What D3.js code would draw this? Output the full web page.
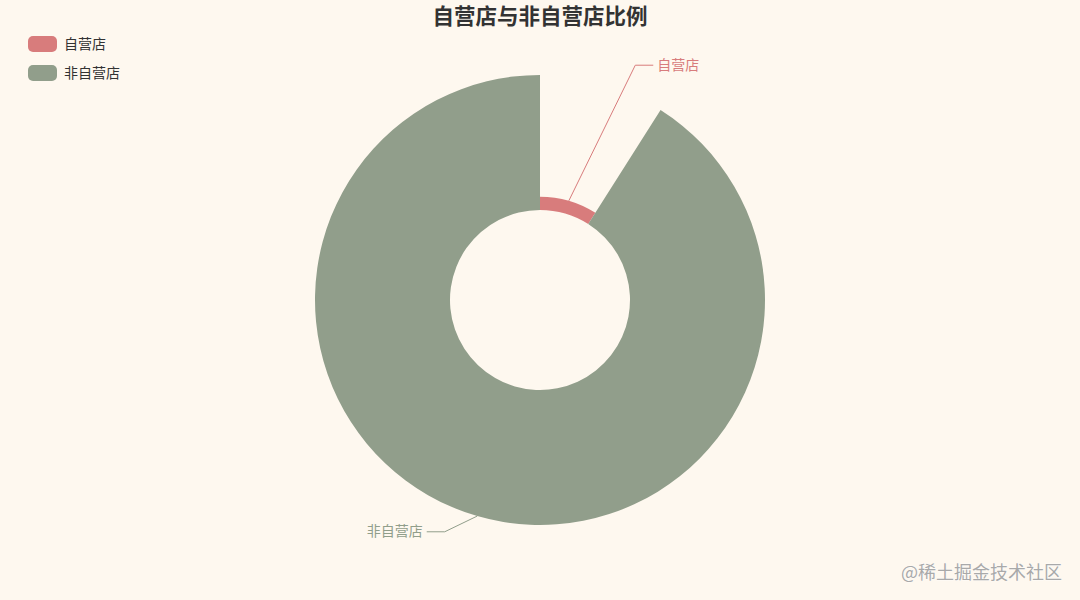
<!DOCTYPE html>
<html><head><meta charset="utf-8">
<script src="https://cdn.jsdelivr.net/npm/d3@7/dist/d3.min.js"></script>
<style>body{margin:0;background:#fef8ef;}svg{display:block;font-family:"Noto Sans CJK SC","Noto Sans",sans-serif;}</style>
</head><body>
<svg id="c" width="1080" height="600"></svg>
<script>
const categories = ["自营店", "非自营店"];
const values = [9, 91];
const colors = ["#d87c7c", "#919e8b"];
const titleText = "自营店与非自营店比例";
const watermark = "@稀土掘金技术社区";

const W = 1080, H = 600, cx = 540, cy = 300;
const r0 = 90, R = 225;
const svg = d3.select("#c");
svg.append("rect").attr("width", W).attr("height", H).attr("fill", "#fef8ef");

const data = categories.map((c, i) => ({name: c, value: values[i], color: colors[i]}));
const rScale = d3.scaleLinear().domain([0, d3.max(values)]).range([r0, R]);
const pie = d3.pie().value(d => d.value).sort(null).startAngle(0).endAngle(2 * Math.PI);
const arcs = pie(data);
const arc = d3.arc().innerRadius(r0).outerRadius(d => rScale(d.data.value));

const g = svg.append("g").attr("transform", `translate(${cx},${cy})`);
g.selectAll("path.slice").data(arcs).enter().append("path")
  .attr("class", "slice").attr("d", arc).attr("fill", d => d.data.color);

// labels
const turnR = R + 27, angOff = 0.105, len2 = 18;
arcs.forEach(d => {
  const mid = (d.startAngle + d.endAngle) / 2;
  const ro = rScale(d.data.value);
  const p0 = [ro * Math.sin(mid), -ro * Math.cos(mid)];
  const a1 = mid + angOff;
  const p1 = [turnR * Math.sin(a1), -turnR * Math.cos(a1) - 1.5];
  const right = p1[0] >= 0;
  const p2 = [p1[0] + (right ? len2 : -len2), p1[1]];
  g.append("path").attr("d", d3.line()([p0, p1, p2]))
    .attr("fill", "none").attr("stroke", d.data.color).attr("stroke-width", 1);
  g.append("text").attr("x", p2[0] + (right ? 4 : -4)).attr("y", p2[1] - 1.5)
    .attr("text-anchor", right ? "start" : "end").attr("dominant-baseline", "central")
    .attr("font-size", 14).attr("fill", d.data.color).text(d.data.name);
});

// title
svg.append("text").attr("x", cx).attr("y", 14).attr("text-anchor", "middle")
  .attr("dominant-baseline", "central").attr("font-size", 21.5).attr("font-weight", "bold")
  .attr("fill", "#333").text(titleText);

// legend
const leg = svg.append("g").attr("transform", "translate(28,36)");
data.forEach((d, i) => {
  const row = leg.append("g").attr("transform", `translate(0,${i * 29})`);
  row.append("rect").attr("width", 29).attr("height", 16).attr("rx", 5).attr("fill", d.color);
  row.append("text").attr("x", 36).attr("y", 6.5).attr("dominant-baseline", "central")
    .attr("font-size", 14).attr("fill", "#333").text(d.name);
});

// watermark
svg.append("text").attr("x", 1062).attr("y", 571).attr("text-anchor", "end")
  .attr("dominant-baseline", "central").attr("font-size", 18)
  .attr("fill", "#a9a9a9").attr("stroke", "#ffffff").attr("stroke-width", 0.6)
  .attr("paint-order", "stroke").text(watermark);
</script>
</body></html>
